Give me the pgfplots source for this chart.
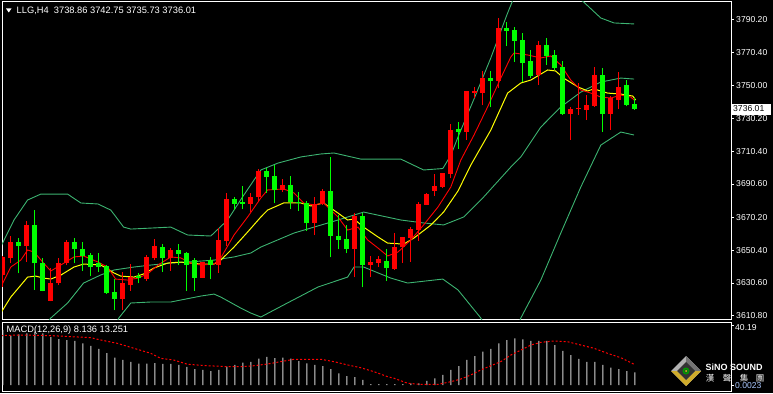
\documentclass[border=0pt]{standalone}
\usepackage{pgfplots}
\pgfplotsset{compat=1.18}
\usepackage{pgfplotstable}
\usepackage{fontspec}
\setmainfont{Liberation Sans}
\newfontfamily\cjk{Noto Sans CJK TC}
\definecolor{bbgreen}{RGB}{60,179,113}
\definecolor{upred}{RGB}{255,0,0}
\definecolor{dngreen}{RGB}{0,255,0}
\definecolor{histgray}{RGB}{215,215,215}
\definecolor{maY}{RGB}{255,255,0}

\pgfplotstableread{
k o h l c
0 3635.4 3647.0 3628.4 3646.6
1 3645.6 3659.1 3642.5 3655.6
3 3653.0 3668.2 3643.5 3665.7
6 3619.9 3639.5 3619.5 3630.4
7 3630.4 3645.5 3629.4 3642.5
8 3642.5 3656.7 3641.5 3655.6
15 3620.9 3637.0 3614.0 3630.4
16 3629.4 3642.1 3626.0 3634.4
18 3633.0 3647.6 3632.0 3646.6
19 3645.6 3657.1 3644.5 3653.0
21 3645.6 3651.6 3638.1 3650.6
25 3633.8 3643.5 3633.8 3643.5
27 3641.5 3663.7 3636.9 3656.7
28 3656.3 3685.3 3653.0 3681.5
31 3678.5 3685.3 3673.8 3682.9
32 3682.9 3699.5 3680.0 3698.7
35 3687.0 3693.4 3685.9 3690.0
39 3667.2 3682.5 3659.7 3678.5
40 3678.5 3687.4 3677.9 3686.4
44 3651.2 3672.8 3634.0 3671.2
46 3641.5 3647.0 3634.0 3643.5
47 3642.9 3647.0 3640.5 3644.9
49 3639.1 3660.7 3638.5 3652.2
50 3652.2 3658.5 3642.9 3658.3
51 3657.7 3664.3 3643.5 3663.3
52 3662.7 3679.9 3656.3 3678.5
53 3677.9 3685.3 3677.9 3684.5
54 3686.6 3696.7 3683.3 3689.4
55 3689.0 3697.5 3688.0 3697.1
56 3696.7 3727.2 3694.0 3723.3
58 3722.3 3747.2 3717.5 3746.9
59 3745.9 3749.2 3742.5 3747.2
60 3745.9 3759.0 3738.2 3754.6
62 3753.2 3791.0 3748.6 3784.9
67 3756.7 3777.5 3750.6 3774.8
71 3733.0 3737.1 3717.3 3736.2
72 3735.8 3751.6 3732.4 3736.5
73 3735.4 3744.5 3729.4 3738.4
74 3737.9 3761.7 3737.5 3756.7
76 3733.0 3744.0 3723.5 3742.5
77 3741.5 3758.5 3736.0 3749.2
}\upT

\pgfplotstableread{
k o h l c
2 3655.6 3657.7 3636.5 3653.0
4 3665.7 3674.8 3626.4 3642.5
5 3642.5 3645.5 3625.6 3626.0
9 3655.6 3657.7 3642.5 3651.0
10 3651.2 3655.2 3638.1 3647.0
11 3647.6 3648.6 3634.8 3640.1
12 3642.5 3648.6 3637.5 3640.5
13 3640.9 3641.5 3624.0 3624.7
14 3625.4 3633.0 3614.0 3620.9
17 3634.8 3636.5 3630.4 3633.4
20 3652.6 3654.2 3637.5 3645.6
22 3650.6 3654.2 3641.5 3648.0
23 3649.0 3649.6 3626.0 3641.5
24 3644.5 3645.5 3626.0 3633.8
26 3644.5 3646.2 3632.8 3641.5
29 3681.3 3682.9 3674.8 3678.5
30 3679.9 3689.4 3675.2 3678.5
33 3698.7 3700.1 3685.3 3695.0
34 3695.4 3702.1 3678.9 3687.0
36 3690.0 3695.4 3675.2 3679.9
37 3679.9 3685.9 3674.2 3679.2
38 3679.3 3680.5 3662.3 3666.8
41 3686.4 3707.2 3646.2 3659.3
42 3659.1 3671.8 3651.2 3656.7
43 3657.3 3665.7 3648.6 3651.2
45 3671.2 3672.8 3628.0 3641.5
48 3643.9 3651.2 3632.0 3639.5
57 3723.7 3728.4 3712.0 3722.1
61 3754.6 3759.3 3737.0 3753.2
63 3784.9 3789.0 3774.2 3783.5
64 3783.9 3785.9 3764.7 3777.5
65 3777.9 3781.9 3752.6 3764.1
66 3765.3 3771.8 3754.6 3756.0
68 3774.8 3779.3 3762.7 3768.2
69 3768.8 3771.8 3759.7 3760.7
70 3761.3 3765.1 3732.5 3733.0
75 3756.7 3760.7 3722.3 3733.0
78 3750.6 3753.6 3737.7 3738.4
79 3738.86 3742.75 3735.73 3736.01
}\dnT

\pgfplotstableread{
k p
-0.25 3652.6
1.4 3668.8
3.1 3680.9
4.75 3684.5
8.1 3684.5
9.75 3679.1
11.9 3678.5
13.5 3674.8
15.1 3664.5
16 3663.3
18.5 3663.9
21 3664.5
23.1 3659.7
26 3659.1
28.1 3668.8
30 3683.0
32.25 3699.1
34.4 3703.3
37.25 3707.0
39.75 3708.8
41.4 3709.4
44.75 3705.7
49.75 3705.7
52.6 3699.1
55 3700.0
56 3708.0
57 3720.3
59 3743.3
61 3767.0
63 3793.0
64 3805.0
66 3815.0
68 3820.0
70 3815.0
72 3803.0
72.6 3800.9
74.75 3791.2
76.4 3788.2
78.9 3787.6
}\bbU

\pgfplotstableread{
k p
4.5 3600.0
6 3609.4
8.1 3618.5
10.1 3630.6
12.25 3635.5
13.9 3638.5
16.4 3640.3
18.5 3641.5
21 3642.7
23.1 3643.3
26.4 3644.5
28.9 3646.4
31 3648.8
32.25 3652.4
36.4 3660.9
41.9 3668.8
45.1 3673.6
49.75 3668.8
52.6 3667.0
55.1 3665.8
57.6 3670.6
60.1 3682.7
63.5 3700.9
64.75 3707.0
67.25 3725.1
69.75 3737.3
72.25 3746.3
74.75 3752.4
77.25 3754.8
78.9 3754.2
}\bbM

\pgfplotstableread{
k p
13.5 3600.0
14.5 3609.4
16 3618.5
18.5 3619.1
21 3619.1
24.75 3622.7
26.4 3623.9
27.25 3622.1
29.75 3615.4
31 3612.4
32.25 3610.0
35.1 3617.3
39.4 3628.2
43.1 3634.2
43.9 3640.3
45.1 3640.3
48.5 3633.6
50.6 3630.6
55 3633.0
56.9 3626.4
59.75 3609.4
61 3598.0
63 3590.0
64 3600.0
64.75 3609.4
67.25 3632.4
69.75 3660.9
72.25 3688.8
74.75 3714.2
77.25 3722.1
78.9 3720.3
}\bbL

\pgfplotstableread{
k p
-0.25 3612.4
1 3622.1
3.1 3634.2
4.1 3634.8
5.1 3633.6
6 3633.0
7.25 3635.4
8.9 3640.3
10.1 3642.1
12.25 3641.5
13.1 3639.1
13.9 3636.7
14.75 3634.8
16.4 3634.2
17.6 3636.1
18.9 3639.7
20.6 3642.7
22.25 3643.3
24.75 3642.1
26.4 3642.1
27.25 3644.5
28.9 3652.4
30.6 3661.5
32.25 3670.6
33.1 3674.8
35.1 3679.1
37.25 3679.1
38.5 3677.3
40.1 3679.1
41.9 3673.0
43.1 3668.8
43.9 3669.4
45.1 3664.5
46.9 3658.5
48.1 3654.8
50.1 3654.2
51.4 3657.9
53.5 3665.7
55.1 3673.6
56.9 3686.4
58.5 3702.1
61 3723.3
63.1 3745.7
64.75 3751.8
66 3753.6
68.1 3759.7
69.1 3759.1
70.1 3754.8
71.9 3749.4
73.1 3747.0
73.9 3748.2
75.6 3745.7
77.25 3745.1
78.75 3743.9
79.1 3741.5
}\maYT

\pgfplotstableread{
k p
-0.25 3628.2
1 3640.3
2.25 3644.5
3.1 3650.6
3.9 3649.4
5.1 3642.7
6 3637.9
7.25 3641.5
8.9 3646.4
10.1 3647.0
11.9 3643.3
13.1 3640.3
14.1 3633.0
15.6 3632.4
16.9 3633.6
18.1 3636.1
19.4 3641.5
21 3646.4
22.25 3645.8
23.5 3642.7
24.75 3641.5
26.4 3642.1
27.25 3645.8
28.9 3659.7
30.6 3670.6
32.25 3682.1
33.1 3687.0
35.1 3687.6
36.4 3685.2
37.6 3679.1
38.9 3677.9
40.1 3679.1
41.9 3670.6
43.1 3662.7
44.4 3664.5
45.6 3656.7
46.9 3651.8
48.1 3647.0
49.4 3649.4
51 3656.7
52.6 3665.8
54.4 3676.7
56 3688.8
57.25 3705.1
58.9 3720.3
60.6 3737.3
62.25 3754.8
63.5 3767.6
63.9 3770.0
65.6 3768.8
67.25 3767.0
68.5 3768.2
69.75 3762.7
71 3753.6
72.25 3747.6
73.5 3745.7
74.75 3743.3
76 3742.7
77.25 3744.5
78.5 3743.3
78.9 3741.5
}\maRT

\pgfplotstableread{
k v
0 35.1
1 31.5
2 32.3
3 33.0
4 34.0
5 33.0
6 30.6
7 29.3
8 28.7
9 28.1
10 26.6
11 24.9
12 23.0
13 20.4
14 17.4
15 16.0
16 14.7
17 13.6
18 13.6
19 14.0
20 13.4
21 13.4
22 12.8
23 11.5
24 10.2
25 9.6
26 8.9
27 9.6
28 11.7
29 12.8
30 14.2
31 14.7
32 16.8
33 17.9
34 17.2
35 17.4
36 16.8
37 15.3
38 13.8
39 12.8
40 12.1
41 10.2
42 7.4
43 5.7
44 5.1
45 3.2
46 0.6
47 0.6
48 0.6
49 0.6
50 0.6
51 1.1
52 1.1
53 2.6
54 4.3
55 6.4
56 9.6
57 12.1
58 16.0
59 18.5
60 21.3
61 23.0
62 26.6
63 28.7
64 29.8
65 29.1
66 28.1
67 28.1
68 28.1
69 25.5
70 21.7
71 19.1
72 16.6
73 14.7
74 14.7
75 12.8
76 11.1
77 10.2
78 8.9
79 8.1
}\histT

\pgfplotstableread{
k v
-0.25 31.5
2.25 31.9
6 31.5
11 30.2
12.25 28.7
14.3 26.6
16.4 23.4
18.5 20.2
19.75 17.0
21.4 15.9
23.1 13.2
25.6 12.3
28.1 11.7
29.75 11.7
31.4 12.3
33.1 13.4
34.75 14.9
36.4 16.4
39.75 16.4
41.4 14.9
43.1 12.8
44.75 11.0
46.4 8.5
48.1 5.3
48.9 4.3
50.6 1.1
52.25 0.4
54.4 0.4
56 2.1
57.25 3.8
58.5 6.4
59.75 9.6
61 12.3
62.25 14.9
63.5 19.1
64.75 22.3
66 25.5
67.25 27.2
68.9 28.1
70.6 27.6
72.25 25.5
73.9 23.4
75.6 20.2
77.25 17.4
78.9 13.251
}\sigT

\pgfplotsset{
  wick/.style={draw=none, mark=none, forget plot,
    error bars/.cd, y dir=plus, y explicit, error mark=none,
    error bar style={line width=1bp, draw=#1}},
  body/.style={draw=none, mark=none, forget plot,
    error bars/.cd, y dir=plus, y explicit, error mark=none,
    error bar style={line width=5bp, draw=#1}},
}

\newcommand{\lbl}{\fontsize{8.6bp}{10bp}\selectfont}
\newcommand{\ttl}{\fontsize{9.3bp}{11bp}\selectfont}

\begin{document}
\begin{tikzpicture}[x=1bp, y=1bp]
\fill[black] (0,0) rectangle (773,393);

\begin{axis}[
  at={(2bp,74bp)}, anchor=south west, scale only axis,
  width=729bp, height=317bp,
  xmin=-0.1, xmax=91.025, ymin=3608.8, ymax=3800.9,
  axis line style={white, line width=1bp},
  xtick=\empty,
  ytick={3790.2,3770.4,3750,3730.2,3710.4,3690.6,3670.2,3650.4,3630.6,3610.8},
  yticklabels={3790.20,3770.40,3750.00,3730.20,3710.40,3690.60,3670.20,3650.40,3630.60,3610.80},
  ytick pos=right, tick align=outside, major tick length=3bp,
  tick style={white, line width=1bp},
  yticklabel style={white, font=\lbl, inner xsep=2bp},
  /pgf/number format/assume math mode=true,
]
\addplot[bbgreen, line width=0.9bp] table[x=k,y=p] {\bbU};
\addplot[bbgreen, line width=0.9bp] table[x=k,y=p] {\bbM};
\addplot[bbgreen, line width=0.9bp] table[x=k,y=p] {\bbL};
\addplot[maY, line width=1bp] table[x=k,y=p] {\maYT};
\addplot[upred, line width=0.9bp] table[x=k,y=p] {\maRT};

\addplot[wick=upred] table[x=k, y=l, y error plus expr={\thisrow{h}-\thisrow{l}}] {\upT};
\addplot[body=upred] table[x=k, y=o, y error plus expr={\thisrow{c}-\thisrow{o}}] {\upT};
\addplot[wick=dngreen] table[x=k, y=l, y error plus expr={\thisrow{h}-\thisrow{l}}] {\dnT};
\addplot[body=dngreen] table[x=k, y=c, y error plus expr={\thisrow{o}-\thisrow{c}}] {\dnT};
\end{axis}

\begin{axis}[
  at={(2bp,2bp)}, anchor=south west, scale only axis,
  width=729bp, height=69bp,
  xmin=-0.1, xmax=91.025, ymin=-3.83, ymax=40.19,
  axis line style={white, line width=1bp},
  xtick=\empty, ytick=\empty,
]
\addplot[ybar, bar width=1bp, fill=histgray, draw=none] table[x=k,y=v] {\histT};
\addplot[upred, line width=1bp, dash pattern=on 2bp off 2bp] table[x=k,y=v] {\sigT};
\end{axis}

% current price box
\node[fill=white, text=black, inner sep=1bp, anchor=west, font=\lbl, minimum height=11bp, text width=37bp] at (732,284) {3736.01};

% title
\fill[white] (6,384.5) -- (11.5,384.5) -- (8.75,380.5) -- cycle;
\node[anchor=west, text=white, font=\ttl, inner sep=0pt] at (16.5,382.3) {LLG,H4\ \ 3738.86 3742.75 3735.73 3736.01};

% MACD labels
\node[anchor=west, text=white, font=\ttl, inner sep=0pt] at (6.5,62.5) {MACD(12,26,9) 8.136 13.251};
\draw[white, line width=1bp] (731,68) -- (734,68);
\node[anchor=west, text=white, font=\lbl, inner sep=0pt] at (735,65) {40.19};
\draw[white, line width=1bp] (731,8) -- (734,8);
\node[anchor=west, text={rgb,255:red,170;green,200;blue,255}, font=\lbl, inner sep=0pt] at (735,7.5) {0.0023};

% logo
\fill[gray!60] (686,37) -- (701,22) -- (686,7) -- (671,22) -- cycle;
\fill[gray!90!black] (686,37) -- (701,22) -- (686,22) -- cycle;
\fill[yellow!60!orange!80!black] (671,22) -- (686,7) -- (701,22) -- (695,22) -- (686,13) -- (677,22) -- cycle;
\fill[black!80] (686,31) -- (695,22) -- (686,13) -- (677,22) -- cycle;
\fill[green!60!black] (686,22) circle (3.5);
\fill[black!80] (686,22) circle (1.8);
\fill[yellow!80!green] (686,22) circle (1);
\node[anchor=west, text=white, inner sep=0pt, font=\fontsize{9bp}{10bp}\selectfont\bfseries] at (705.5,26) {SiNO SOUND};
\node[text=white, inner sep=0pt, font=\fontsize{8.5bp}{10bp}\selectfont\cjk] at (710,14.5) {漢};
\node[text=white, inner sep=0pt, font=\fontsize{8.5bp}{10bp}\selectfont\cjk] at (727,14.5) {聲};
\node[text=white, inner sep=0pt, font=\fontsize{8.5bp}{10bp}\selectfont\cjk] at (744,14.5) {集};
\node[text=white, inner sep=0pt, font=\fontsize{8.5bp}{10bp}\selectfont\cjk] at (760,14.5) {團};
\end{tikzpicture}
\end{document}
